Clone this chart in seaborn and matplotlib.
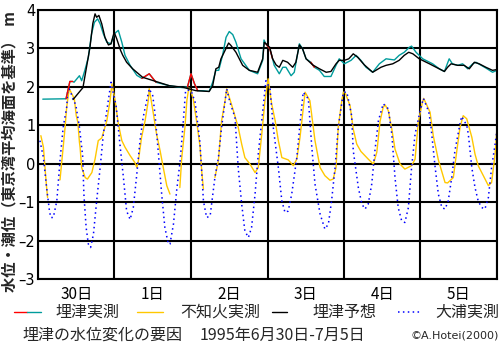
import numpy as np
import pandas as pd
import matplotlib
matplotlib.use("Agg")
import matplotlib.pyplot as plt
from matplotlib.lines import Line2D
import seaborn as sns

sns.set_theme(style="white")
plt.rcParams["font.family"] = ["Noto Sans CJK JP", "DejaVu Sans"]
plt.rcParams["axes.unicode_minus"] = True

# ---------------- data (hours from 6/30 0:00) ----------------
day_labels = ["30日", "1日", "2日", "3日", "4日", "5日"]
y_ticks = [-3, -2, -1, 0, 1, 2, 3, 4]

# 埋津実測 (observed at Umezu)
obs_t = [1.5, 8.8, 9.5, 10.0, 10.9, 11.3, 13.0, 13.7, 14.7, 15.8, 16.8, 17.7, 18.7, 19.5,
         20.5, 21.6, 22.9, 23.9, 25.2, 26.3, 27.3, 28.9, 31.0, 32.6, 34.9, 37.0, 41.2,
         45.4, 46.9, 48.0, 49.1, 50.1, 51.7, 53.7, 54.8, 55.8, 56.7, 57.9, 59.0, 60.0,
         61.1, 62.1, 63.7, 66.3, 68.9, 70.5, 70.9, 71.5, 72.7, 73.6, 74.1, 75.7, 76.8,
         77.8, 79.4, 80.4, 82.0, 83.0, 84.1, 85.6, 86.7, 88.3, 89.8, 91.9, 93.5, 94.5,
         96.1, 98.2, 99.8, 101.3, 102.9, 105.0, 107.1, 109.2, 111.8, 113.3, 114.9, 116.5,
         117.2, 118.6, 120.7, 123.8, 125.9, 127.5, 129.0, 130.0, 131.7, 133.2, 134.8,
         136.4, 137.4, 140.5, 142.6, 144.0]
obs_v = [1.68, 1.69, 1.95, 2.14, 2.14, 2.12, 2.29, 2.16, 2.43, 2.77, 3.38, 3.68, 3.77, 3.64,
         3.38, 3.16, 3.12, 3.38, 3.47, 3.16, 2.82, 2.56, 2.30, 2.22, 2.34, 2.12, 2.03,
         1.98, 2.00, 2.34, 2.08, 1.90, 1.90, 1.88, 2.12, 2.43, 2.43, 2.82, 3.29, 3.44,
         3.36, 3.16, 2.73, 2.43, 2.34, 2.69, 3.22, 3.12, 2.99, 2.73, 2.56, 2.34, 2.51,
         2.51, 2.29, 2.38, 3.12, 2.99, 2.73, 2.64, 2.51, 2.43, 2.27, 2.27, 2.56, 2.73,
         2.60, 2.69, 2.82, 2.69, 2.51, 2.38, 2.60, 2.73, 2.70, 2.82, 2.90, 3.03,
         3.06, 2.90, 2.73, 2.60, 2.47, 2.40, 2.73, 2.60, 2.56, 2.60, 2.47,
         2.60, 2.64, 2.49, 2.38, 2.43]
# portions of the observed record drawn in red
obs_red_spans = [(8.8, 10.9), (32.6, 37.0), (46.9, 50.1), (71.5, 73.6), (85.6, 86.7)]

# 埋津予想 (predicted at Umezu)
pred_t = [11.0, 14.1, 16.3, 17.2, 17.9, 18.4, 19.1, 20.0, 21.0, 22.1, 22.9, 23.9, 24.7,
          25.9, 26.6, 27.8, 29.7, 32.8, 37.0, 41.2, 45.4, 49.6, 53.7, 54.8, 55.8, 56.7,
          57.4, 58.4, 59.8, 60.5, 62.1, 64.2, 66.3, 68.9, 70.5, 71.0, 72.7, 73.6, 74.7,
          75.7, 76.8, 78.3, 79.9, 80.9, 82.0, 83.0, 84.1, 86.2, 88.3, 90.4, 91.9, 93.5,
          94.5, 96.1, 97.5, 98.9, 100.3, 102.4, 105.0, 107.6, 109.2, 111.3, 113.3, 114.9,
          116.3, 117.6, 119.6, 122.8, 124.9, 127.5, 128.5, 129.6, 131.7, 133.7, 135.3,
          136.9, 138.4, 140.5, 142.6, 144.0]
pred_v = [1.67, 1.98, 3.03, 3.65, 3.90, 3.81, 3.86, 3.64, 3.29, 3.09, 3.12, 3.42, 3.25,
          2.95, 2.82, 2.64, 2.47, 2.25, 2.14, 2.03, 1.99, 1.90, 1.88, 2.03, 2.47, 2.51,
          2.73, 2.90, 3.14, 3.08, 2.90, 2.56, 2.43, 2.38, 2.73, 3.16, 3.03, 2.73, 2.57,
          2.51, 2.69, 2.64, 2.51, 2.64, 3.09, 2.99, 2.73, 2.57, 2.47, 2.38, 2.40, 2.60,
          2.69, 2.69, 2.73, 2.86, 2.77, 2.57, 2.38, 2.51, 2.56, 2.60, 2.69, 2.82,
          2.90, 2.86, 2.73, 2.60, 2.51, 2.40, 2.51, 2.60, 2.56, 2.56, 2.47,
          2.64, 2.60, 2.51, 2.43, 2.45]

# 不知火実測 (observed at Shiranui), NaN = missing
shir_t = [0.9, 1.7, 2.2, 2.7, 3.0, 4.5, 6.9, 7.9, 8.5, 9.0, 9.8, 11.4, 12.0, 12.5, 13.0, 13.2,
          13.7, 14.8, 15.5, 16.9, 17.9, 18.9, 20.0, 21.6, 22.6, 23.2, 24.2, 25.2, 26.3,
          27.3, 28.9, 30.4, 31.0, 31.5, 32.5, 33.6, 34.6, 34.9, 36.2, 37.2, 38.3, 39.3,
          40.4, 41.4, 43.0, 44.5, 45.1, 46.1, 46.7, 47.3, 47.7, 48.7, 49.8, 50.8, 51.4,
          51.9, 53.5, 55.5, 56.6, 57.6, 58.7, 59.2, 61.3, 62.8, 63.9, 64.9, 66.5, 68.1,
          69.1, 70.2, 71.2, 72.2, 73.3, 74.4, 75.4, 76.5, 78.5, 80.1, 81.2, 82.2, 83.2,
          83.8, 85.3, 86.9, 88.5, 90.0, 91.6, 92.6, 93.5, 94.2, 95.3, 95.8, 96.3, 97.9,
          98.9, 100.0, 101.3, 103.6, 105.2, 106.3, 107.3, 108.3, 108.9, 109.9, 111.0,
          112.0, 113.6, 115.1, 117.2, 118.3, 119.3, 120.6, 121.0, 123.0, 124.0, 125.6,
          127.7, 128.5, 130.3, 131.4, 132.4, 133.4, 134.5, 136.1, 137.1, 138.1, 139.7,
          141.3, 142.3, 143.4, 143.9]
shir_v = [0.73, 0.43, -0.10, -0.62, -0.88, np.nan, -0.42, 0.43, 0.95, 1.47, 1.95, 1.69, 1.25,
          1.08, 0.56, 0.43, -0.10, -0.36, -0.40, -0.23, 0.12, 0.60, 0.67, 1.12, 1.64, 2.08,
          1.64, 1.04, 0.60, 0.43, 0.21, 0.03, -0.10, 0.08, 0.69, 1.12, 1.64, 1.95, 1.30,
          0.77, 0.34, -0.10, -0.57, -0.79, np.nan, -0.62, 0.16, 0.95, 1.64, 1.97, 1.95,
          1.69, 1.08, 0.47, -0.23, -0.66, np.nan, -0.36, 0.08, 1.12, 1.64, 1.95, 1.38,
          0.95, 0.51, 0.16, -0.01, -0.23, -0.10, 0.77, 1.64, 2.21, 1.56, 1.12, 0.60, 0.16,
          0.10, -0.05, 0.12, 0.69, 1.43, 1.86, 1.64, 0.60, -0.10, -0.31, -0.43, -0.40,
          -0.10, 0.95, 1.64, 1.86, 1.86, 1.51, 0.90, 0.51, 0.32, 0.12, -0.01, 0.30, 1.10,
          1.47, 1.53, 1.38, 0.90, 0.38, -0.01, -0.14, -0.05, 0.12, 1.08, 1.60, 1.70, 1.34,
          0.73, 0.10, -0.49, -0.50, -0.36, 0.34, 0.95, 1.25, 1.17, 0.69, 0.25, -0.05,
          -0.31, -0.57, -0.49, 0.25, 0.82]

# 大浦実測 (observed at Oura)
oura_t = [0.6, 1.7, 2.7, 3.6, 4.0, 4.8, 5.9, 6.9, 7.9, 9.0, 9.3, 9.8, 11.9, 13.0, 13.6, 14.0,
          14.4, 15.1, 15.8, 16.5, 17.4, 18.4, 19.5, 20.5, 21.6, 22.9, 24.5, 25.7, 26.8,
          27.8, 28.9, 29.9, 31.0, 32.0, 33.0, 34.9, 36.0, 36.7, 37.7, 38.8, 39.8, 40.9,
          41.4, 42.5, 43.5, 44.6, 45.6, 46.3, 47.5, 48.2, 49.3, 50.8, 51.9, 52.9, 54.0,
          55.5, 56.6, 57.6, 59.2, 60.2, 61.8, 62.8, 63.9, 64.9, 66.0, 67.0, 68.1, 69.1,
          70.2, 71.5, 72.8, 73.8, 75.4, 76.5, 77.5, 78.5, 79.6, 81.2, 82.2, 83.2, 84.8,
          85.9, 86.9, 88.5, 90.0, 91.1, 92.1, 93.2, 94.2, 95.8, 96.9, 98.4, 98.9, 100.5,
          101.6, 102.6, 103.6, 104.7, 105.7, 106.8, 108.3, 109.9, 111.0, 112.0, 113.0,
          114.1, 115.1, 116.2, 117.2, 118.3, 119.8, 120.9, 122.6, 123.3, 124.6, 125.6,
          126.7, 127.7, 128.7, 129.8, 130.8, 132.4, 132.9, 134.5, 135.0, 136.1, 137.1,
          138.1, 139.2, 140.2, 141.3, 142.3, 143.4, 143.9]
oura_v = [0.60, 0.16, -0.62, -1.23, -1.40, -1.40, -0.97, 0.08, 0.95, 1.47, 1.86, 1.95, 1.51,
          0.95, 0.50, 0.21, -0.80, -1.66, -2.09, -2.18, -1.83, -0.97, -0.10, 0.77, 1.38,
          2.12, 1.51, 0.51, -0.36, -1.23, -1.45, -1.14, -0.27, 0.60, 1.21, 1.95, 1.77,
          1.30, 0.34, -0.79, -1.66, -2.09, -2.09, -1.57, -0.70, 0.08, 1.12, 1.90, 1.92,
          1.86, 1.60, 0.56, -0.97, -1.40, -1.36, -0.36, 0.16, 0.95, 1.95, 1.60, 1.21,
          -0.10, -1.05, -1.75, -1.92, -1.66, -0.79, 0.25, 1.12, 2.16, 1.95, 0.95, -0.10,
          -0.97, -1.27, -1.23, -0.79, 0.16, 1.04, 1.86, 1.69, 0.43, -0.53, -1.31, -1.70,
          -1.57, -0.97, -0.10, 0.95, 1.86, 1.86, 1.25, 0.34, -0.62, -1.05, -1.18, -1.05,
          -0.53, 0.34, 1.12, 1.56, 1.43, 0.77, -0.36, -1.14, -1.49, -1.53, -1.14, -0.10,
          0.77, 1.34, 1.70, 1.35, 0.95, -0.10, -0.79, -1.14, -1.18, -0.97, -0.36, 0.34,
          1.04, 1.23, 1.00, 0.77, -0.10, -0.62, -0.97, -1.14, -1.18, -0.88, -0.10, 0.51,
          0.82]


def segmented(t, v):
    df = pd.DataFrame({"t": t, "v": v})
    df["seg"] = df["v"].isna().cumsum()
    return df.dropna()


TEAL = "#009c9c"
RED = "#ff0000"
YELLOW = "#ffc800"
BLUE = "#0000ff"

W, H = 504, 346
fig = plt.figure(figsize=(W / 100, H / 100), dpi=100)
ax = fig.add_axes([38 / W, 1 - 279 / H, 459 / W, 269 / H])

# data lines
shir_df = segmented(shir_t, shir_v)
sns.lineplot(data=shir_df, x="t", y="v", units="seg", estimator=None, color=YELLOW,
             lw=1.0, ax=ax, legend=False)
oura_df = segmented(oura_t, oura_v)
sns.lineplot(data=oura_df, x="t", y="v", units="seg", estimator=None, color=BLUE,
             lw=1.1, ls=(0, (1, 2.2)), ax=ax, legend=False)
obs_df = pd.DataFrame({"t": obs_t, "v": obs_v})
sns.lineplot(data=obs_df, x="t", y="v", color=TEAL, lw=1.0, ax=ax, legend=False)
red_parts = []
for i, (a, b) in enumerate(obs_red_spans):
    part = obs_df[(obs_df.t >= a) & (obs_df.t <= b)].copy()
    part["seg"] = i
    red_parts.append(part)
red_df = pd.concat(red_parts)
sns.lineplot(data=red_df, x="t", y="v", units="seg", estimator=None, color=RED,
             lw=1.0, ax=ax, legend=False)
pred_df = pd.DataFrame({"t": pred_t, "v": pred_v})
sns.lineplot(data=pred_df, x="t", y="v", color="black", lw=1.0, ax=ax, legend=False)

# axes & grid
ax.set_xlim(0, 144)
ax.set_ylim(-3, 4)
ax.set_xticks(np.arange(0, 145, 24))
ax.set_xticklabels([])
ax.set_xticks(np.arange(12, 144, 24), minor=True)
ax.set_xticklabels(day_labels, minor=True)
ax.set_yticks(y_ticks)
ax.set_yticklabels([str(v).replace("-", "\u2013") for v in y_ticks],
                   family=["DejaVu Sans"])
ax.tick_params(axis="both", which="both", length=0, labelsize=11, colors="black")
ax.tick_params(axis="y", labelsize=10.5, pad=2)
ax.tick_params(axis="x", which="minor", pad=5)
ax.grid(True, which="major", color="black", lw=1.5)
ax.set_axisbelow(True)
for s in ax.spines.values():
    s.set_visible(True)
    s.set_color("black")
    s.set_linewidth(1.5)
ax.set_xlabel("")
ax.set_ylabel("")

# y label (vertical, bold)
fig.text(9 / W, 1 - 152 / H, "水位・潮位（東京湾平均海面を基準）  m", rotation=90,
         ha="center", va="center", fontsize=11, fontweight="bold")

# legend drawn manually
ly = 1 - 312 / H
def fx(px):
    return px / W

fig.add_artist(Line2D([fx(14), fx(27)], [ly, ly], color=RED, lw=1.0))
fig.add_artist(Line2D([fx(27), fx(41)], [ly, ly], color=TEAL, lw=1.0))
fig.text(fx(55), ly, "埋津実測", ha="left", va="center", fontsize=11.5)
fig.add_artist(Line2D([fx(137), fx(163)], [ly, ly], color=YELLOW, lw=1.0))
fig.text(fx(180), ly, "不知火実測", ha="left", va="center", fontsize=11.5)
fig.add_artist(Line2D([fx(272), fx(287)], [ly, ly], color="black", lw=1.0))
fig.text(fx(312), ly, "埋津予想", ha="left", va="center", fontsize=11.5)
fig.add_artist(Line2D([fx(398), fx(420)], [ly, ly], color=BLUE, lw=1.1, ls=(0, (1, 2.2))))
fig.text(fx(435), ly, "大浦実測", ha="left", va="center", fontsize=11.5)

# caption
cy = 1 - 335 / H
fig.text(fx(22), cy, "埋津の水位変化の要因", ha="left", va="center", fontsize=11.5)
fig.text(fx(200), cy, "1995年6月30日-7月5日", ha="left", va="center", fontsize=11.5)
fig.text(fx(411), cy, "©A.Hotei(2000)", ha="left", va="center", fontsize=8,
         family=["Liberation Sans Narrow", "DejaVu Sans"])

fig.savefig("out.png", dpi=100, facecolor="white")
